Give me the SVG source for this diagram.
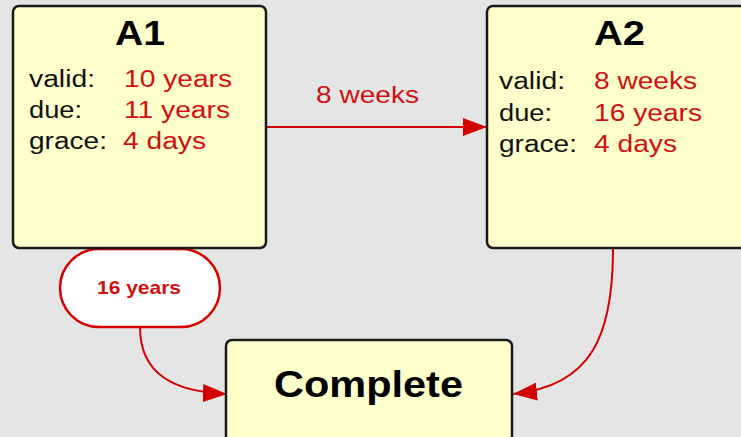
<svg xmlns="http://www.w3.org/2000/svg" width="741" height="437" viewBox="0 0 741 437">
<style>
.box{fill:#ffffcc;stroke:#1a1a1a;stroke-width:2.5}
.t{font-family:"Liberation Sans",Arial,sans-serif}
.title{font-weight:bold;fill:#000}
.lbl{font-size:23px;fill:#111}
.val{font-size:23px;fill:#d01010}
.conn{fill:none;stroke:#d40000;stroke-width:2}
</style>
<defs>
<marker id="ah" markerUnits="userSpaceOnUse" markerWidth="26" markerHeight="18" refX="24" refY="9" orient="auto">
<path d="M0,0 L24,9 L0,18 Z" fill="#d40000"/>
</marker>
</defs>
<rect width="741" height="437" fill="#e5e5e5"/>
<g id="connectors">
<line class="conn" x1="266" y1="127" x2="487" y2="127" marker-end="url(#ah)"/>
<path class="conn" d="M140,327 C140,375 175,392 227,394" marker-end="url(#ah)"/>
<path class="conn" d="M613,249 C613,335 592,386 513,394" marker-end="url(#ah)"/>
<text class="t" x="316" y="103" font-size="24" fill="#d01010" textLength="103" lengthAdjust="spacingAndGlyphs">8 weeks</text>
</g>
<g id="pill">
<rect x="60" y="249" width="160" height="78" rx="39" fill="#fff" stroke="#d40000" stroke-width="2.5"/>
<text class="t" x="97" y="294" font-size="19" font-weight="bold" fill="#d01010" textLength="84" lengthAdjust="spacingAndGlyphs">16 years</text>
</g>
<g id="A1">
<rect class="box" x="13" y="6" width="253" height="242" rx="6"/>
<text class="t title" x="115" y="45" font-size="35" textLength="50" lengthAdjust="spacingAndGlyphs">A1</text>
<text class="t lbl" x="29" y="87" textLength="66" lengthAdjust="spacingAndGlyphs">valid:</text>
<text class="t lbl" x="29" y="118" textLength="53" lengthAdjust="spacingAndGlyphs">due:</text>
<text class="t lbl" x="29" y="149" textLength="78" lengthAdjust="spacingAndGlyphs">grace:</text>
<text class="t val" x="124" y="87" textLength="108" lengthAdjust="spacingAndGlyphs">10 years</text>
<text class="t val" x="124" y="118" textLength="106" lengthAdjust="spacingAndGlyphs">11 years</text>
<text class="t val" x="123" y="149" textLength="83" lengthAdjust="spacingAndGlyphs">4 days</text>
</g>
<g id="A2">
<rect class="box" x="487" y="6" width="264" height="242" rx="6"/>
<text class="t title" x="594" y="45" font-size="35" textLength="51" lengthAdjust="spacingAndGlyphs">A2</text>
<text class="t lbl" x="499" y="89" textLength="66" lengthAdjust="spacingAndGlyphs">valid:</text>
<text class="t lbl" x="499" y="121" textLength="53" lengthAdjust="spacingAndGlyphs">due:</text>
<text class="t lbl" x="499" y="152" textLength="78" lengthAdjust="spacingAndGlyphs">grace:</text>
<text class="t val" x="594" y="89" textLength="103" lengthAdjust="spacingAndGlyphs">8 weeks</text>
<text class="t val" x="594" y="121" textLength="108" lengthAdjust="spacingAndGlyphs">16 years</text>
<text class="t val" x="594" y="152" textLength="83" lengthAdjust="spacingAndGlyphs">4 days</text>
</g>
<g id="Complete">
<rect class="box" x="226" y="340" width="286" height="110" rx="6"/>
<text class="t title" x="274" y="397" font-size="37" textLength="189" lengthAdjust="spacingAndGlyphs">Complete</text>
</g>
</svg>
